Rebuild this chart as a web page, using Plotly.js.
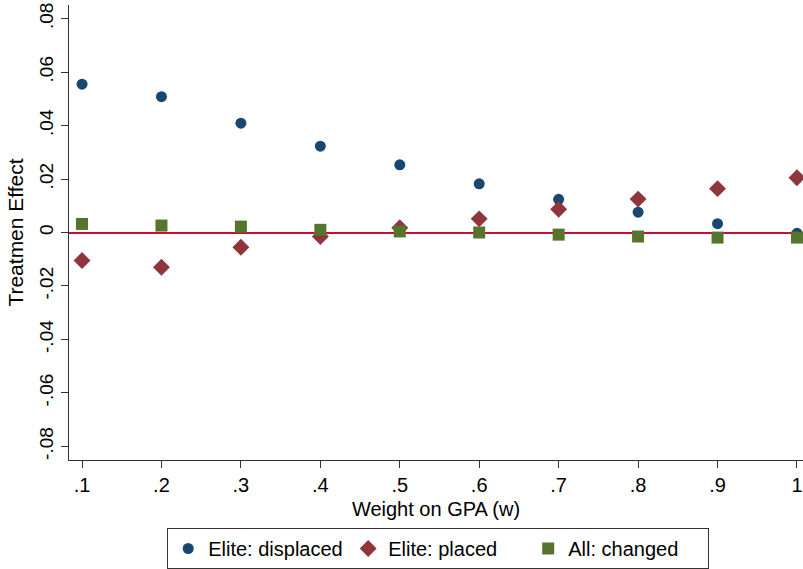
<!DOCTYPE html>
<html>
<head>
<meta charset="utf-8">
<script src="https://cdn.plot.ly/plotly-3.0.1.min.js"></script>
<style>html,body{margin:0;padding:0;background:#fff;}#chart{width:803px;height:569px;}</style>
</head>
<body>
<div id="chart"></div>
<script>
const weights = [0.1, 0.2, 0.3, 0.4, 0.5, 0.6, 0.7, 0.8, 0.9, 1.0];
const eliteDisplaced = [0.0555, 0.0508, 0.0409, 0.0323, 0.0253, 0.0182, 0.0124, 0.0076, 0.0033, -0.0003];
const elitePlaced = [-0.0105, -0.0130, -0.0055, -0.0015, 0.0018, 0.0051, 0.0087, 0.0125, 0.0164, 0.0205];
const allChanged = [0.0032, 0.0026, 0.0022, 0.0010, 0.0004, 0.0000, -0.0008, -0.0015, -0.0019, -0.0019];
const xTickVals = [0.1, 0.2, 0.3, 0.4, 0.5, 0.6, 0.7, 0.8, 0.9, 1.0];
const xTickText = ['.1', '.2', '.3', '.4', '.5', '.6', '.7', '.8', '.9', '1'];
const yTickVals = [-0.08, -0.06, -0.04, -0.02, 0, 0.02, 0.04, 0.06, 0.08];
const yTickText = ['-.08', '-.06', '-.04', '-.02', '0', '.02', '.04', '.06', '.08'];

const font = 'Liberation Sans, Arial, Helvetica, sans-serif';
const traces = [
  {x: weights, y: eliteDisplaced, mode: 'markers', type: 'scatter', name: 'Elite: displaced',
   marker: {symbol: 'circle', size: 11, color: '#1a476f'}},
  {x: weights, y: elitePlaced, mode: 'markers', type: 'scatter', name: 'Elite: placed',
   marker: {symbol: 'diamond', size: 13, color: '#90353b'}},
  {x: weights, y: allChanged, mode: 'markers', type: 'scatter', name: 'All: changed',
   marker: {symbol: 'square', size: 12, color: '#55752f'}}
];
const layout = {
  width: 803, height: 569,
  margin: {l: 69, r: 0, t: 5, b: 109},
  paper_bgcolor: '#ffffff', plot_bgcolor: '#ffffff',
  font: {family: font, color: '#000000', size: 20},
  xaxis: {
    range: [0.0836, 1.0076], tickvals: xTickVals, ticktext: xTickText,
    showgrid: false, zeroline: false, showline: true, linecolor: '#333333', linewidth: 1.3,
    ticks: 'outside', ticklen: 7, tickwidth: 1.3, tickcolor: '#333333',
    tickfont: {size: 20, family: font},
    title: {text: 'Weight on GPA (w)', font: {size: 20, family: font}, standoff: 6}
  },
  yaxis: {
    range: [-0.0851, 0.0851], tickvals: yTickVals, ticktext: yTickText, tickangle: -90,
    showgrid: false, zeroline: true, zerolinecolor: '#c8102e', zerolinewidth: 2,
    showline: true, linecolor: '#333333', linewidth: 1.3,
    ticks: 'outside', ticklen: 7, tickwidth: 1.3, tickcolor: '#333333',
    tickfont: {size: 19, family: font},
    title: {text: 'Treatmen Effect', font: {size: 21, family: font}, standoff: 6}
  },
  showlegend: true,
  legend: {
    orientation: 'h', x: 0.503, xanchor: 'center', y: -0.15, yanchor: 'top',
    bordercolor: '#333333', borderwidth: 1, bgcolor: '#ffffff',
    entrywidth: 135, entrywidthmode: 'pixels',
    font: {size: 20, family: font}
  }
};
Plotly.newPlot('chart', traces, layout, {displayModeBar: false});
</script>
</body>
</html>
